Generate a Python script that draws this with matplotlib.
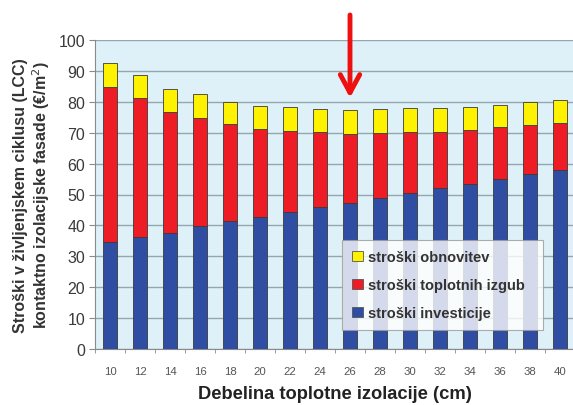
import numpy as np
import matplotlib
matplotlib.use("Agg")
import matplotlib.pyplot as plt
from matplotlib.patches import Patch

plt.rcParams['font.family'] = ['Liberation Sans', 'DejaVu Sans']

# debelina izolacije (cm)
thickness = [10, 12, 14, 16, 18, 20, 22, 24, 26, 28, 30, 32, 34, 36, 38, 40]
# stroški investicije
investment = [34.6, 36.2, 37.5, 39.7, 41.3, 42.6, 44.4, 46.0, 47.4, 49.0, 50.5, 52.1, 53.5, 55.1, 56.5, 57.8]
# stroški toplotnih izgub
heat_loss = [50.3, 44.9, 39.3, 35.1, 31.4, 28.5, 26.2, 24.1, 22.1, 21.0, 19.8, 18.2, 17.3, 16.8, 15.9, 15.2]
# stroški obnovitev
renewal = [7.5, 7.6, 7.5, 7.6, 7.3, 7.6, 7.8, 7.5, 7.8, 7.8, 7.8, 7.8, 7.6, 7.2, 7.4, 7.6]

labels = ['stroški obnovitev', 'stroški toplotnih izgub', 'stroški investicije']
colors = ['#fff200', '#ee1c24', '#2e4da3']

fig = plt.figure(figsize=(5.73, 4.06), dpi=100)
ax = fig.add_axes([95 / 573, 56 / 406, 480 / 573, 309 / 406])

x = np.arange(len(thickness))
inv = np.array(investment)
heat = np.array(heat_loss)
ren = np.array(renewal)
w = 0.45
ax.bar(x, inv, w, color=colors[2], edgecolor='#3a3a3a', linewidth=0.6, zorder=3)
ax.bar(x, heat, w, bottom=inv, color=colors[1], edgecolor='#3a3a3a', linewidth=0.6, zorder=3)
ax.bar(x, ren, w, bottom=inv + heat, color=colors[0], edgecolor='#3a3a3a', linewidth=0.6, zorder=3)

ax.set_facecolor('#dff1f8')
ax.set_xlim(-0.5, len(thickness) - 0.5)
ax.set_ylim(0, 100)
ax.set_yticks(range(0, 101, 10))
ax.yaxis.grid(True, color='#94a6ae', linewidth=1.0, zorder=1)
ax.set_axisbelow(True)

ax.set_xticks(x)
ax.set_xticklabels([str(t) for t in thickness], fontsize=8.2, color='#555555')
ax.set_xticks(np.arange(-0.5, len(thickness), 1), minor=True)
ax.tick_params(axis='x', which='major', length=0, pad=12)
ax.tick_params(axis='x', which='minor', length=3, color='#8a8a8a', direction='out')
ax.tick_params(axis='y', length=4, color='#8a8a8a', labelsize=11.5, labelcolor='#3a3a3a', pad=3)

for side in ['top', 'right']:
    ax.spines[side].set_visible(False)
ax.spines['left'].set_color('#8a8a8a')
ax.spines['bottom'].set_color('#8a8a8a')

ax.set_ylabel('Stroški v življenjskem ciklusu (LCC)\nkontaktno izolacijske fasade (€/m$^2$)',
              fontsize=11.5, fontweight='bold', color='#333333', labelpad=5, linespacing=1.15)
ax.set_xlabel('Debelina toplotne izolacije (cm)', fontsize=13.2, fontweight='bold',
              color='#222222', labelpad=7)

handles = [Patch(facecolor=c, edgecolor='#555555', linewidth=0.6) for c in colors]
leg = ax.legend(handles, labels, loc='lower left', bbox_to_anchor=(0.515, 0.061, 0.418, 0.292),
                mode='expand', frameon=True, fancybox=False, borderpad=0.7, borderaxespad=0,
                labelspacing=0.95, handlelength=0.75, handleheight=0.75, handletextpad=0.35,
                prop={'weight': 'bold', 'size': 10.5})
leg.get_frame().set_edgecolor('#999999')
leg.get_frame().set_linewidth(0.8)
for t in leg.get_texts():
    t.set_color('#333333')
leg.set_zorder(5)

# puščica na optimalno debelino (26 cm)
opt = thickness.index(26)
ax.annotate('', xy=(opt, 80.4), xytext=(opt, 109), annotation_clip=False,
            arrowprops=dict(arrowstyle='->,head_length=1.3,head_width=0.7',
                            color='#ee1010', lw=3.5))

fig.savefig('out.png', dpi=100)
